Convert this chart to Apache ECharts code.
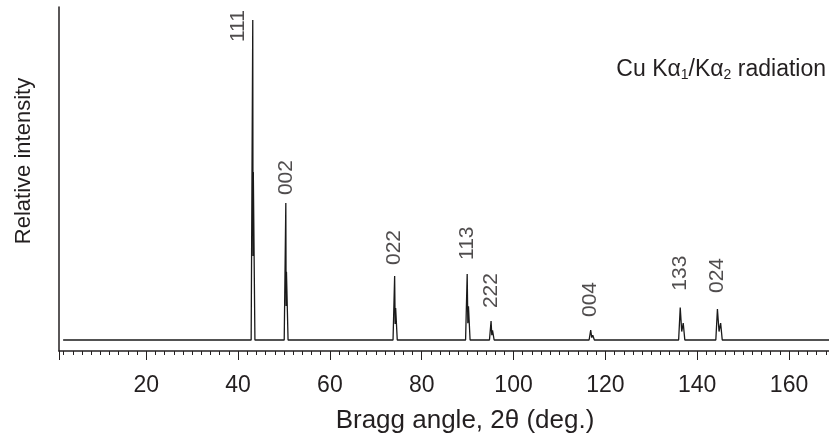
<!DOCTYPE html>
<html>
<head>
<meta charset="utf-8">
<script src="https://cdn.jsdelivr.net/npm/echarts@6/dist/echarts.min.js"></script>
<style>
  html, body { margin: 0; background: #fff; }
  #chart { width: 829px; height: 442px; }
</style>
</head>
<body>
<div id="chart"></div>
<script>
// Cu Ka1/Ka2 powder pattern
var peakNames = ["111", "002", "022", "113", "222", "004", "133", "024"];
var peakAngles = [43.2, 50.4, 74.1, 89.9, 95.1, 116.8, 136.3, 144.4];
var peakHeights = [96.2, 43.0, 21.8, 22.4, 8.7, 6.1, 12.6, 12.2];
var ka2Angles = [43.32, 50.54, 74.32, 90.18, 95.42, 117.25, 136.95, 145.1];
var ka2Heights = [52, 23, 12.5, 13, 6, 4.6, 8.1, 8.1];
var baseline = 3.2;
var traceStart = 1.9;
var xMin = 1, xMax = 168.7;

var font = "'Liberation Sans', Arial, sans-serif";
var ink = "#231f20";

// label anchor relative to the peak top, px
var labelPos = [[-15, 22], [0, -8], [0, -11], [0, -14], [0, -13], [0, -13], [0, -17], [0, -16]];

var trace = [[traceStart, baseline]];
peakAngles.forEach(function (a, i) {
  var a2 = ka2Angles[i];
  trace.push([a - 0.35, baseline]);
  trace.push([a, peakHeights[i]]);
  trace.push([(a + a2) / 2, (baseline + ka2Heights[i]) / 2]);
  trace.push([a2, ka2Heights[i]]);
  trace.push([a2 + 0.35, baseline]);
});
trace.push([xMax, baseline]);

var labelData = peakAngles.map(function (a, i) {
  return {
    value: [a, peakHeights[i]],
    label: { position: labelPos[i] }
  };
});

var chart = echarts.init(document.getElementById("chart"));
chart.setOption({
  animation: false,
  grid: { left: 59, right: 0, top: 7, bottom: 91 },
  xAxis: {
    type: "value",
    min: xMin,
    max: xMax,
    splitNumber: 8,
    splitLine: { show: false },
    axisLine: { lineStyle: { color: ink, width: 1.5 } },
    axisTick: { length: 9, lineStyle: { color: ink, width: 1 } },
    minorTick: { show: true, splitNumber: 10, length: 4, lineStyle: { color: ink, width: 1 } },
    axisLabel: {
      showMinLabel: false,
      showMaxLabel: false,
      margin: 23,
      fontSize: 23,
      fontFamily: font,
      color: ink
    }
  },
  yAxis: {
    type: "value",
    min: 0,
    max: 100,
    splitLine: { show: false },
    axisLine: { show: true, lineStyle: { color: ink, width: 1.5 } },
    axisTick: { show: false },
    axisLabel: { show: false }
  },
  series: [
    {
      type: "line",
      data: trace,
      showSymbol: false,
      symbol: "none",
      lineStyle: { color: "#1a1a1a", width: 1.3 }
    },
    {
      type: "scatter",
      data: labelData,
      symbolSize: 0,
      label: {
        show: true,
        rotate: 90,
        align: "left",
        verticalAlign: "middle",
        fontSize: 21,
        fontFamily: font,
        color: ink,
        formatter: function (p) { return peakNames[p.dataIndex]; }
      }
    }
  ],
  graphic: [
    {
      type: "text",
      x: 826,
      y: 70,
      style: {
        text: "Cu K\u03b1{s|1}/K\u03b1{s|2} radiation",
        align: "right",
        verticalAlign: "middle",
        fontSize: 23,
        fontFamily: font,
        fill: ink,
        rich: {
          s: { fontSize: 14, fontFamily: font, fill: ink, padding: [10, 0, 0, 0] }
        }
      }
    },
    {
      type: "text",
      x: 465,
      y: 421,
      style: {
        text: "Bragg angle, 2\u03b8 (deg.)",
        align: "center",
        verticalAlign: "middle",
        fontSize: 26,
        fontFamily: font,
        fill: ink
      }
    },
    {
      type: "text",
      x: 24,
      y: 161,
      rotation: Math.PI / 2,
      style: {
        text: "Relative intensity",
        align: "center",
        verticalAlign: "middle",
        fontSize: 22,
        fontFamily: font,
        fill: ink
      }
    }
  ]
});
</script>
</body>
</html>
